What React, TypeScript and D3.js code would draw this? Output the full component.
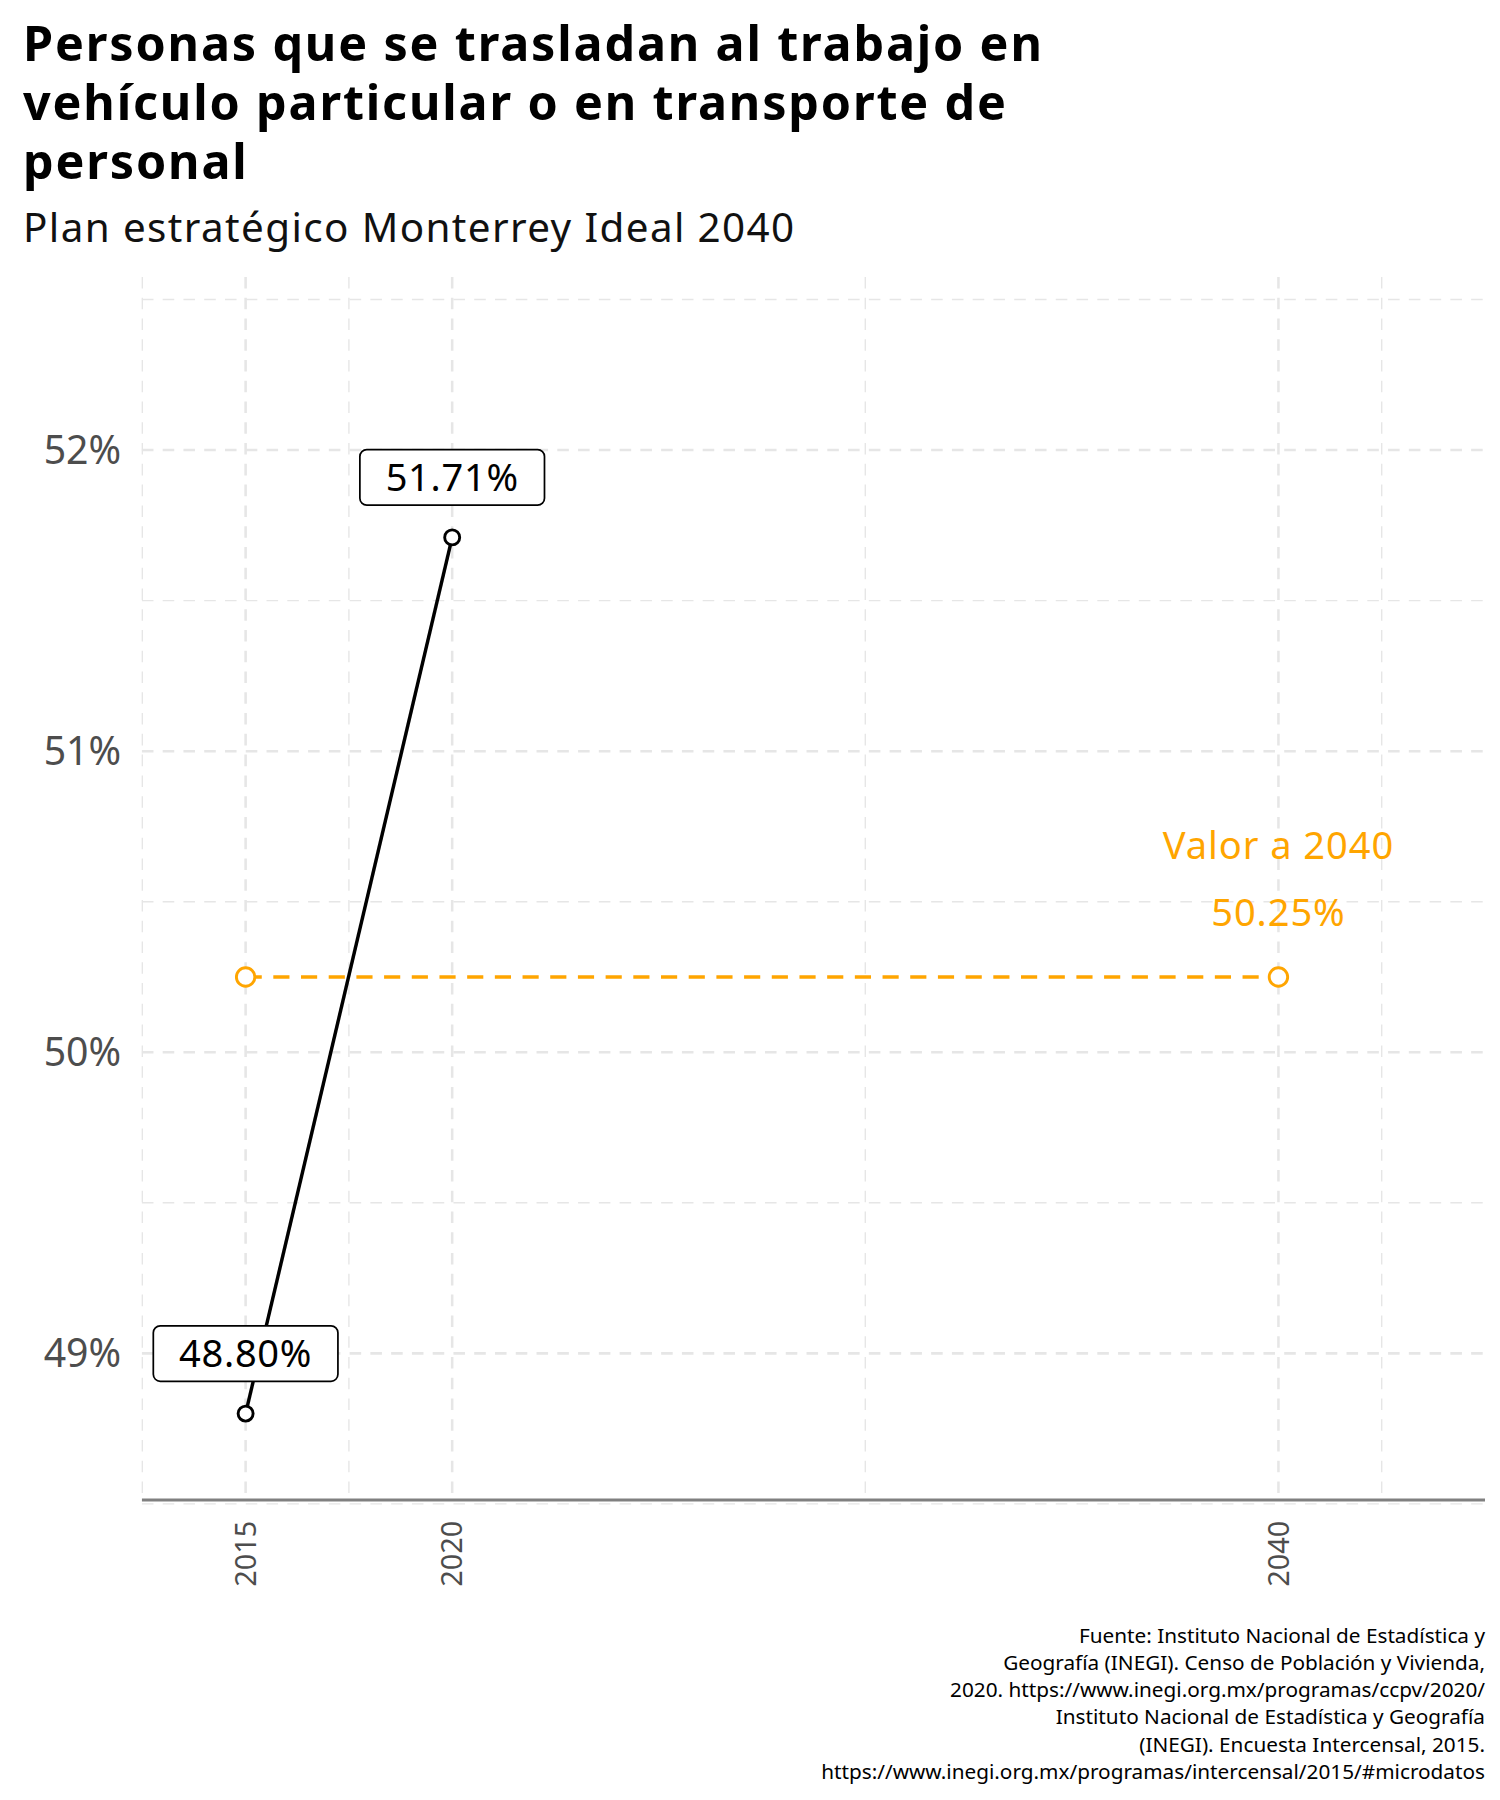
import { scaleLinear } from 'd3'

// Values
const years = [2015, 2020]
const values = [48.8, 51.71]
const labels = ['48.80%', '51.71%']
const targetYears = [2015, 2040]
const targetValue = 50.25
const xBreaks = [2015, 2020, 2040]
const xMinor = [2012.5, 2017.5, 2030, 2042.5]
const yBreaks = [49, 50, 51, 52]
const yMinor = [48.5, 49.5, 50.5, 51.5, 52.5]
const titleLines = [
  'Personas que se trasladan al trabajo en',
  'vehículo particular o en transporte de',
  'personal',
]
const captionLines = [
  'Fuente: Instituto Nacional de Estadística y',
  'Geografía (INEGI). Censo de Población y Vivienda,',
  '2020. https://www.inegi.org.mx/programas/ccpv/2020/',
  'Instituto Nacional de Estadística y Geografía',
  '(INEGI). Encuesta Intercensal, 2015.',
  'https://www.inegi.org.mx/programas/intercensal/2015/#microdatos',
]

const W = 1300
const H = 1560
const PL = 123
const PR = 1287
const PT = 240
const PB = 1300
const FONT = '"Noto Sans", "Open Sans", sans-serif'
const ORANGE = '#FFA500'

export default function App() {
  const x = scaleLinear().domain([2012.49, 2045]).range([PL, PR])
  const y = scaleLinear().domain([48.513, 52.575]).range([PB, PT])
  const grid = { stroke: '#e6e6e6', strokeDasharray: '10 8' }

  return (
    <svg
      viewBox={`0 0 ${W} ${H}`}
      width={1500}
      height={1800}
      style={{ position: 'absolute', left: 0, top: 0, background: '#fff' }}
      fontFamily={FONT}
    >
      {titleLines.map((t, i) => (
        <text key={t} x={20} y={53 + i * 51} fontSize={42} fontWeight={700} fill="#000" letterSpacing={1.6}>
          {t}
        </text>
      ))}
      <text x={20} y={210} fontSize={35} fill="#111" letterSpacing={1.2}>
        Plan estratégico Monterrey Ideal 2040
      </text>

      {xMinor.map((v) => (
        <line key={'xm' + v} x1={x(v)} x2={x(v)} y1={PT} y2={PB} {...grid} strokeWidth={1.2} />
      ))}
      {yMinor.map((v) => (
        <line key={'ym' + v} x1={PL} x2={PR} y1={y(v)} y2={y(v)} {...grid} strokeWidth={1.2} />
      ))}
      {xBreaks.map((v) => (
        <line key={'xb' + v} x1={x(v)} x2={x(v)} y1={PT} y2={PB} {...grid} strokeWidth={2.2} />
      ))}
      {yBreaks.map((v) => (
        <line key={'yb' + v} x1={PL} x2={PR} y1={y(v)} y2={y(v)} {...grid} strokeWidth={2.2} />
      ))}
      <line x1={PL} x2={PR} y1={PB} y2={PB} stroke="#808080" strokeWidth={2.5} />

      {yBreaks.map((v) => (
        <text key={'yl' + v} x={105} y={y(v)} dy="0.35em" textAnchor="end" fontSize={34} fill="#4d4d4d">
          {v}%
        </text>
      ))}
      {xBreaks.map((v) => (
        <text
          key={'xl' + v}
          transform={`translate(${x(v)},${PB + 18}) rotate(-90)`}
          textAnchor="end"
          dy="0.35em"
          fontSize={25}
          fill="#4d4d4d"
        >
          {v}
        </text>
      ))}

      {/* target line */}
      <line
        x1={x(targetYears[0])}
        x2={x(targetYears[1])}
        y1={y(targetValue)}
        y2={y(targetValue)}
        stroke={ORANGE}
        strokeWidth={3}
        strokeDasharray="14 10"
      />
      {targetYears.map((v) => (
        <circle key={'t' + v} cx={x(v)} cy={y(targetValue)} r={8} fill="#fff" stroke={ORANGE} strokeWidth={2.5} />
      ))}
      <text x={x(2040)} y={y(targetValue) - 102} textAnchor="middle" fontSize={33} fill={ORANGE} letterSpacing={0.8}>
        Valor a 2040
      </text>
      <text x={x(2040)} y={y(targetValue) - 44} textAnchor="middle" fontSize={33} fill={ORANGE} letterSpacing={0.8}>
        {targetValue.toFixed(2)}%
      </text>

      {/* series */}
      <line
        x1={x(years[0])}
        y1={y(values[0])}
        x2={x(years[1])}
        y2={y(values[1])}
        stroke="#000"
        strokeWidth={3}
      />
      {years.map((v, i) => (
        <circle key={'p' + v} cx={x(v)} cy={y(values[i])} r={6.5} fill="#fff" stroke="#000" strokeWidth={2.5} />
      ))}
      {years.map((v, i) => {
        const cx = x(v)
        const cy = y(values[i]) - 52
        return (
          <g key={'lb' + v}>
            <rect x={cx - 80} y={cy - 24} width={160} height={48} rx={6} fill="#fff" stroke="#000" strokeWidth={1.5} />
            <text x={cx} y={cy} dy="0.36em" textAnchor="middle" fontSize={33} fill="#000" letterSpacing={0.6}>
              {labels[i]}
            </text>
          </g>
        )
      })}

      {captionLines.map((t, i) => (
        <text key={t} x={PR} y={1424 + i * 23.5} textAnchor="end" fontSize={18} fill="#000">
          {t}
        </text>
      ))}
    </svg>
  )
}
